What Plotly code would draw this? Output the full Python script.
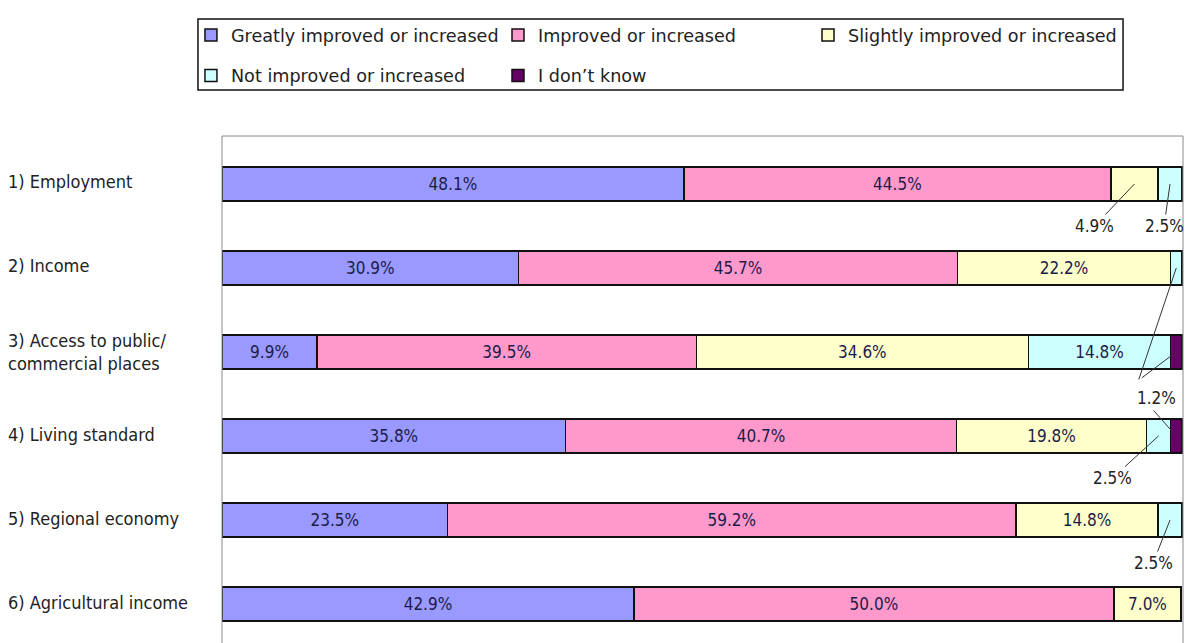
import plotly.graph_objects as go

# Survey items (top to bottom)
categories = [
    "1) Employment",
    "2) Income",
    "3) Access to public/<br>commercial places",
    "4) Living standard",
    "5) Regional economy",
    "6) Agricultural income",
]

series_names = [
    "Greatly improved or increased",
    "Improved or increased",
    "Slightly improved or increased",
    "Not improved or increased",
    "I don\u2019t know",
]

# Share of respondents (%) per answer, one list per answer
greatly = [48.1, 30.9, 9.9, 35.8, 23.5, 42.9]
improved = [44.5, 45.7, 39.5, 40.7, 59.2, 50.0]
slightly = [4.9, 22.2, 34.6, 19.8, 14.8, 7.0]
not_improved = [2.5, 1.2, 14.8, 2.5, 2.5, 0.0]
dont_know = [0.0, 0.0, 1.2, 1.2, 0.0, 0.0]

series_values = [greatly, improved, slightly, not_improved, dont_know]
colors = ["#9999ff", "#ff99cc", "#ffffcc", "#ccffff", "#660066"]

# One legend per entry so the two-row grid can be placed freely
legend_ids = ["legend", "legend2", "legend3", "legend4", "legend5"]
legend_x = [-0.0323, 0.2872, 0.6098, -0.0323, 0.2872]
legend_y = [1.1992, 1.1992, 1.1992, 1.1193, 1.1193]

# Thin segments labelled outside the bar with a leader line:
# (category index, series index, text offset x px, text offset y px)
callouts = [
    (0, 2, -40, 42),
    (0, 3, -6, 42),
    (3, 3, -46, 42),
    (4, 3, -17, 43),
]
# The three 1.2% segments share one label; leader lines end at the label edge.
shared_label = (1, 3, -20, 130)
shared_leaders = [
    (1, 3, -38, 113),
    (2, 4, -36, 27),
    (3, 4, -24, -27),
]

BAR_FONT = "Liberation Sans Narrow, DejaVu Sans Condensed, Arial Narrow, sans-serif"
LABEL_FONT = "DejaVu Sans Condensed, DejaVu Sans, sans-serif"
LEGEND_FONT = "DejaVu Sans, sans-serif"

y_pos = list(range(len(categories)))


def seg_center(ci, si):
    left = sum(series_values[k][ci] for k in range(si))
    return left + series_values[si][ci] / 2


fig = go.Figure()
for name, vals, col, lg in zip(series_names, series_values, colors, legend_ids):
    fig.add_trace(go.Bar(
        name=name,
        y=y_pos,
        x=vals,
        orientation="h",
        width=0.405,
        legend=lg,
        marker=dict(color=col, line=dict(color="#111111", width=1.5)),
        text=[f"{v:.1f}%" if v >= 7 else "" for v in vals],
        textposition="inside",
        insidetextanchor="middle",
        textangle=0,
        textfont=dict(family=BAR_FONT, size=17, color="#1c1c48"),
        hoverinfo="skip",
    ))

annotations = []
label_font = dict(family=BAR_FONT, size=17, color="#222222")

# Leader-line labels for thin segments
for ci, si, ax, ay in callouts:
    annotations.append(dict(
        x=seg_center(ci, si), y=ci, xref="x", yref="y",
        text=f"{series_values[si][ci]:.1f}%", showarrow=True, arrowhead=0,
        arrowwidth=1, arrowcolor="#333333", ax=ax, ay=ay, standoff=0,
        font=label_font,
    ))

# Shared 1.2% label and its three leader lines
ci, si, dx, dy = shared_label
annotations.append(dict(
    x=seg_center(ci, si), y=ci, xref="x", yref="y",
    xshift=dx, yshift=-dy, showarrow=False,
    text=f"{series_values[si][ci]:.1f}%", font=label_font,
))
for ci, si, ax, ay in shared_leaders:
    annotations.append(dict(
        x=seg_center(ci, si), y=ci, xref="x", yref="y",
        text="", showarrow=True, arrowhead=0, arrowwidth=1,
        arrowcolor="#333333", ax=ax, ay=ay, standoff=0,
    ))

# Category labels at the far left
for i, cat in enumerate(categories):
    annotations.append(dict(
        x=0, y=i, xref="paper", yref="y", xanchor="left", yanchor="middle",
        xshift=-216, yshift=0 if "<br>" in cat else 2,
        text=cat, showarrow=False, align="left",
        font=dict(family=LABEL_FONT, size=18, color="#222222"),
    ))

# Plot-area frame (left, top, right) and the legend box
frame = dict(type="line", xref="paper", yref="paper",
             line=dict(color="#8a8a8a", width=1))
shapes = [
    dict(frame, x0=0, x1=0, y0=-0.02, y1=1),
    dict(frame, x0=0, x1=1, y0=1, y1=1),
    dict(frame, x0=1, x1=1, y0=-0.02, y1=1),
    dict(type="rect", xref="paper", yref="paper",
         x0=-0.025, x1=0.9376, y0=1.0907, y1=1.2308,
         line=dict(color="#111111", width=1.5), fillcolor="rgba(0,0,0,0)"),
]

legend_common = dict(
    orientation="h", xanchor="left", yanchor="middle",
    borderwidth=0, bgcolor="rgba(0,0,0,0)",
    font=dict(family=LEGEND_FONT, size=17.6, color="#222222"),
    itemclick=False, itemdoubleclick=False,
)
legend_layout = {
    lg: dict(legend_common, x=lx, y=ly)
    for lg, lx, ly in zip(legend_ids, legend_x, legend_y)
}

fig.update_layout(
    width=1185, height=643,
    margin=dict(l=222, r=2, t=136, b=0),
    barmode="stack",
    plot_bgcolor="white", paper_bgcolor="white",
    showlegend=True,
    xaxis=dict(range=[0, 100.1], visible=False, fixedrange=True),
    yaxis=dict(range=[5.464, -0.571], visible=False, fixedrange=True),
    annotations=annotations,
    shapes=shapes,
    uniformtext=dict(mode="show", minsize=10),
    **legend_layout,
)

fig.write_html("out.html")
